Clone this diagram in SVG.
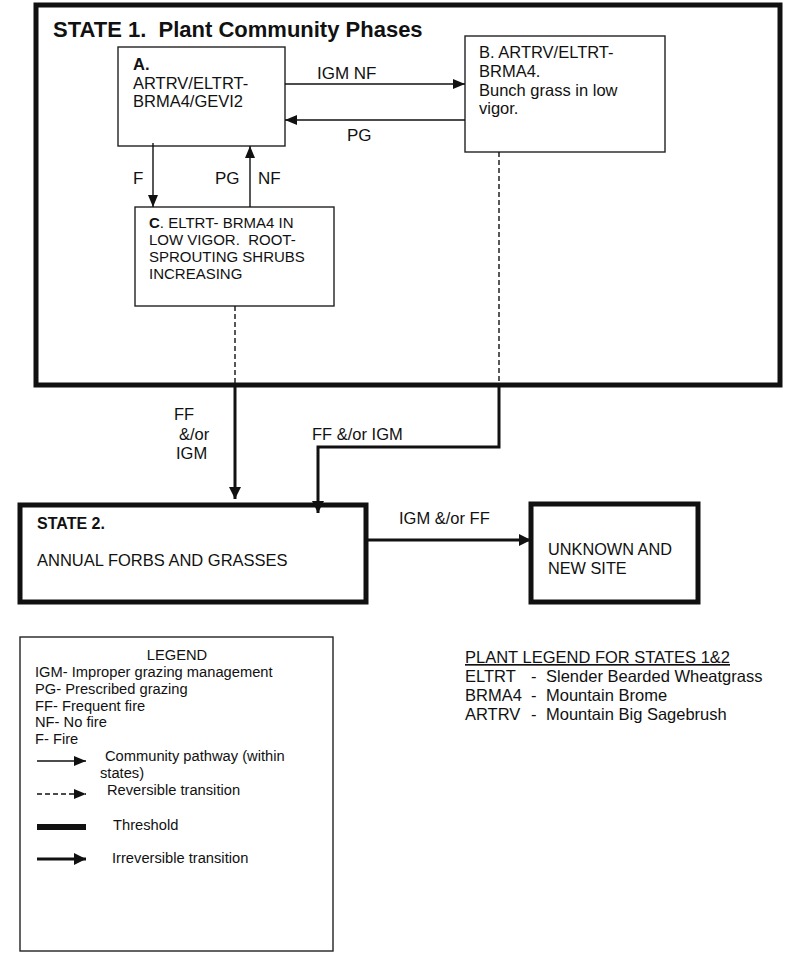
<svg xmlns="http://www.w3.org/2000/svg" width="800" height="974" viewBox="0 0 800 974">
<style>
text{font-family:"Liberation Sans",Arial,sans-serif;fill:#111;white-space:pre}
.box{fill:#fff;stroke:#222;stroke-width:1.4}
.state{fill:none;stroke:#111;stroke-width:5}
.bx{font-size:16.5px}
.cx{font-size:15px}
.lab{font-size:17px}
.lab2{font-size:16.5px}
.leg{font-size:14.7px}
.thin{fill:none;stroke:#111;stroke-width:1.4}
.dash{fill:none;stroke:#111;stroke-width:1.4;stroke-dasharray:5 3}
.thick{fill:none;stroke:#111;stroke-width:3}
</style>
<defs>
<marker id="ah" markerWidth="12" markerHeight="10" refX="12" refY="5" orient="auto" markerUnits="userSpaceOnUse"><path d="M0,0 L12,5 L0,10 z" fill="#111"/></marker>
<marker id="ahT" markerWidth="12" markerHeight="12" refX="12" refY="6" orient="auto" markerUnits="userSpaceOnUse"><path d="M0,0 L12,6 L0,12 z" fill="#111"/></marker>
</defs>
<rect width="800" height="974" fill="#fff"/>

<g id="state1">
<rect class="state" x="36" y="5" width="744" height="380"/>
<text x="53" y="37" font-size="22" font-weight="bold" xml:space="preserve">STATE 1.  Plant Community Phases</text>
</g>

<g id="nodeA">
<rect class="box" x="118" y="47" width="167" height="99"/>
<text class="bx" x="133" y="70" font-weight="bold" font-size="15">A.</text>
<text class="bx" x="133" y="89">ARTRV/ELTRT-</text>
<text class="bx" x="133" y="107">BRMA4/GEVI2</text>
</g>

<g id="nodeB">
<rect class="box" x="465" y="36" width="200" height="116"/>
<text class="bx" x="479" y="58">B. ARTRV/ELTRT-</text>
<text class="bx" x="479" y="77">BRMA4.</text>
<text class="bx" x="479" y="96">Bunch grass in low</text>
<text class="bx" x="479" y="114">vigor.</text>
</g>

<g id="nodeC">
<rect class="box" x="135" y="207" width="199" height="99"/>
<text class="cx" x="149" y="228"><tspan font-weight="bold">C</tspan>. ELTRT- BRMA4 IN</text>
<text class="cx" x="149" y="245" xml:space="preserve">LOW VIGOR.  ROOT-</text>
<text class="cx" x="149" y="262">SPROUTING SHRUBS</text>
<text class="cx" x="149" y="279">INCREASING</text>
</g>

<g id="state2">
<rect class="state" x="20" y="505" width="346" height="97"/>
<text x="37" y="529" font-size="16" font-weight="bold">STATE 2.</text>
<text class="lab2" x="37" y="566">ANNUAL FORBS AND GRASSES</text>
</g>

<g id="unknown">
<rect class="state" x="531" y="504" width="167" height="98"/>
<text x="548" y="555" font-size="16.3">UNKNOWN AND</text>
<text x="548" y="574" font-size="16.3">NEW SITE</text>
</g>

<g id="connectors">
<line class="thin" x1="285" y1="84" x2="465" y2="84" marker-end="url(#ah)"/>
<line class="thin" x1="465" y1="120" x2="285" y2="120" marker-end="url(#ah)"/>
<line class="thin" x1="153" y1="143" x2="153" y2="207" marker-end="url(#ah)"/>
<line class="thin" x1="250" y1="207" x2="250" y2="146" marker-end="url(#ah)"/>
<line class="dash" x1="235" y1="306" x2="235" y2="384"/>
<line class="dash" x1="499" y1="152" x2="499" y2="384"/>
<line class="thick" x1="235" y1="386" x2="235" y2="499" marker-end="url(#ahT)"/>
<polyline class="thick" points="499,386 499,447 318,447 318,513" marker-end="url(#ahT)"/>
<line class="thick" x1="366" y1="540" x2="531" y2="540" marker-end="url(#ahT)"/>
<text class="lab" x="317" y="79">IGM NF</text>
<text class="lab" x="347" y="141">PG</text>
<text class="lab" x="133" y="184">F</text>
<text class="lab" x="215" y="184">PG</text>
<text class="lab" x="258" y="184">NF</text>
<text class="lab2" x="174" y="420">FF</text>
<text class="lab2" x="179" y="440">&amp;/or</text>
<text class="lab2" x="176" y="459">IGM</text>
<text class="lab2" x="312" y="440">FF &amp;/or IGM</text>
<text class="lab2" x="399" y="524">IGM &amp;/or FF</text>
</g>

<g id="legend">
<rect class="box" x="20" y="637" width="313" height="314"/>
<text class="leg" x="177" y="660" text-anchor="middle" font-size="15.5">LEGEND</text>
<text class="leg" x="35" y="677">IGM- Improper grazing management</text>
<text class="leg" x="35" y="694">PG- Prescribed grazing</text>
<text class="leg" x="35" y="711">FF- Frequent fire</text>
<text class="leg" x="35" y="727">NF- No fire</text>
<text class="leg" x="35" y="744">F- Fire</text>
<line class="thin" x1="37" y1="761" x2="86" y2="761" marker-end="url(#ah)"/>
<text class="leg" x="105" y="761">Community pathway (within</text>
<text class="leg" x="100" y="778">states)</text>
<line class="dash" x1="37" y1="794" x2="86" y2="794" marker-end="url(#ah)"/>
<text class="leg" x="107" y="795">Reversible transition</text>
<line x1="37" y1="827" x2="86" y2="827" stroke="#111" stroke-width="6"/>
<text class="leg" x="113" y="830">Threshold</text>
<line class="thick" x1="37" y1="859" x2="86" y2="859" marker-end="url(#ahT)"/>
<text class="leg" x="112" y="863">Irreversible transition</text>
</g>

<g id="plant-legend">
<text class="lab2" x="465" y="663" text-decoration="underline">PLANT LEGEND FOR STATES 1&amp;2</text>
<text class="lab2" x="465" y="682">ELTRT</text><text class="lab2" x="531" y="682">-</text><text class="lab2" x="546" y="682">Slender Bearded Wheatgrass</text>
<text class="lab2" x="465" y="701">BRMA4</text><text class="lab2" x="531" y="701">-</text><text class="lab2" x="546" y="701">Mountain Brome</text>
<text class="lab2" x="465" y="720">ARTRV</text><text class="lab2" x="531" y="720">-</text><text class="lab2" x="546" y="720">Mountain Big Sagebrush</text>
</g>
</svg>
